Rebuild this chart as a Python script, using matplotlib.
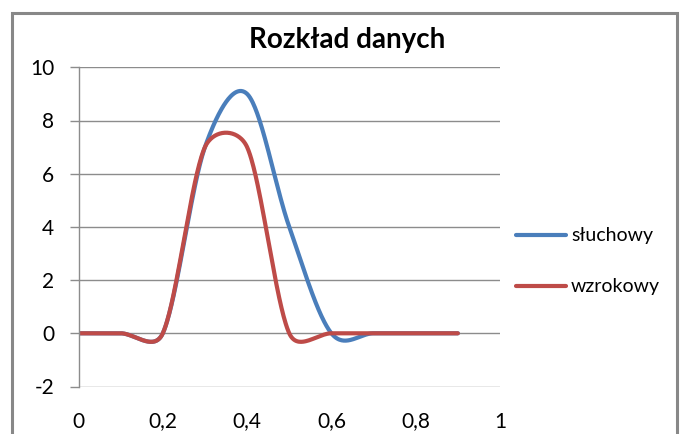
import numpy as np
import matplotlib
matplotlib.use("Agg")
import matplotlib.pyplot as plt
from matplotlib.patches import Rectangle
from matplotlib.ticker import FuncFormatter

x_points = [0.0, 0.1, 0.2, 0.3, 0.4, 0.5, 0.6, 0.7, 0.8, 0.9]
sluchowy = [0, 0, 0, 7.0, 9.0, 4.0, 0, 0, 0, 0]
wzrokowy = [0, 0, 0, 7.0, 7.0, 0, 0, 0, 0, 0]
series_names = ["słuchowy", "wzrokowy"]
title = "Rozkład danych"
y_ticks = [-2, 0, 2, 4, 6, 8, 10]
x_ticks = [0, 0.2, 0.4, 0.6, 0.8, 1.0]


def excel_smooth(ax, xs, ys, n=60):
    """Excel-like smoothed line: Bezier segments computed in display space."""
    pts = ax.transData.transform(np.column_stack([xs, ys]))
    npt = len(pts)
    out = []
    for i in range(npt - 1):
        p0 = pts[i - 1] if i > 0 else pts[i]
        p1 = pts[i]
        p2 = pts[i + 1]
        p3 = pts[i + 2] if i + 2 < npt else pts[i + 1]
        d12 = np.linalg.norm(p2 - p1)
        d02 = np.linalg.norm(p2 - p0)
        d13 = np.linalg.norm(p3 - p1)
        f1 = 1 / 6 if d02 / 6 <= d12 / 2 else (d12 / 2) / d02
        f2 = 1 / 6 if d13 / 6 <= d12 / 2 else (d12 / 2) / d13
        c1 = p1 + (p2 - p0) * f1
        c2 = p2 - (p3 - p1) * f2
        t = np.linspace(0, 1, n)[:, None]
        seg = ((1 - t) ** 3) * p1 + 3 * ((1 - t) ** 2) * t * c1 + 3 * (1 - t) * t ** 2 * c2 + t ** 3 * p2
        out.append(seg if i == 0 else seg[1:])
    out = np.vstack(out)
    data = ax.transData.inverted().transform(out)
    return data[:, 0], data[:, 1]


plt.rcParams['font.family'] = ['Lato', 'DejaVu Sans']
W, H = 680, 434
fig = plt.figure(figsize=(W / 100, H / 100), dpi=100)
ax = fig.add_axes([78.5 / W, 1 - 386.5 / H, (500 - 78.5) / W, (386.5 - 67.3) / H])

ax.set_xlim(0, 1)
ax.set_ylim(-2, 10)

colors = ["#4A7EBB", "#BE4B48"]
for ys, c, name in zip([sluchowy, wzrokowy], colors, series_names):
    sx, sy = excel_smooth(ax, x_points, ys)
    ax.plot(sx, sy, color=c, lw=3.0, solid_capstyle='round', solid_joinstyle='round', label=name)

ax.set_yticks(y_ticks)
ax.set_xticks(x_ticks)
fmt = FuncFormatter(lambda v, p: ("%g" % v).replace(".", ","))
ax.xaxis.set_major_formatter(fmt)
ax.yaxis.set_major_formatter(fmt)
ax.grid(axis='y', color='#8c8c8c', lw=1.0)
ax.set_axisbelow(True)
for s in ['top', 'right', 'bottom']:
    ax.spines[s].set_visible(False)
ax.spines['left'].set_color('#8c8c8c')
ax.spines['left'].set_linewidth(1.0)
ax.tick_params(axis='y', length=6.5, width=1.0, color='#8c8c8c', pad=11, labelsize=15)
ax.tick_params(axis='x', length=0, pad=18, labelsize=15)

leg = ax.legend(loc='center left', bbox_to_anchor=(1.0, 0.392), frameon=False,
                fontsize=14, handlelength=2.6, handletextpad=0.25, labelspacing=1.75,
                borderaxespad=0.4)

fig.text(347 / W, 1 - 40 / H, title, ha='center', va='center', fontsize=20, fontweight='bold')

fig.patches.append(Rectangle((12 / W, -0.1), (677 - 12) / W, 1 - 13 / H + 0.1,
                             transform=fig.transFigure, fill=False, edgecolor='#888888', lw=2.2))

fig.savefig("out.png", dpi=100)
